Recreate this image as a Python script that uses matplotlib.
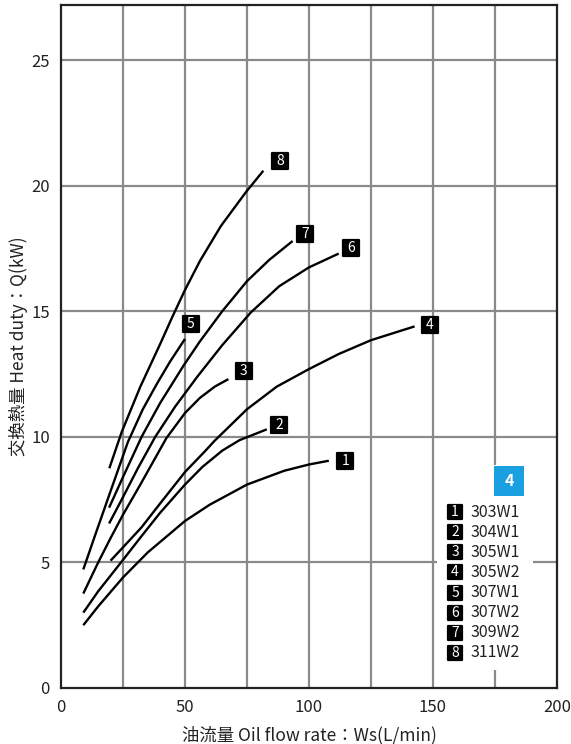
import matplotlib
matplotlib.use("Agg")
import matplotlib.pyplot as plt
from matplotlib.markers import MarkerStyle
from matplotlib.patches import Rectangle
from matplotlib.transforms import offset_copy

plt.rcParams["font.family"] = ["Noto Sans CJK JP", "DejaVu Sans"]

# curve data (oil flow L/min, heat duty kW)
models = ["303W1", "304W1", "305W1", "305W2", "307W1", "307W2", "309W2", "311W2"]

flow_1 = [9, 15, 25, 35, 50, 60, 75, 90, 100, 108]
duty_1 = [2.5, 3.25, 4.4, 5.4, 6.65, 7.3, 8.1, 8.65, 8.9, 9.05]

flow_2 = [9, 15, 25, 32.5, 40, 50, 57, 65, 72, 83]
duty_2 = [3.0, 3.85, 5.1, 6.05, 6.98, 8.1, 8.8, 9.45, 9.87, 10.3]

flow_3 = [9, 15, 20, 25, 32, 42.5, 50, 56, 62, 67.5]
duty_3 = [3.76, 5.0, 5.97, 6.9, 8.1, 9.95, 10.95, 11.55, 12.0, 12.3]

flow_4 = [20, 25, 32.5, 40, 50, 57.8, 62, 75, 87, 100, 112, 125, 142.6]
duty_4 = [5.07, 5.6, 6.4, 7.35, 8.6, 9.4, 9.85, 11.1, 12.0, 12.7, 13.3, 13.85, 14.4]

flow_5 = [9, 14, 19.5, 27, 33, 38.6, 44, 50]
duty_5 = [4.72, 6.15, 7.7, 9.8, 11.1, 12.1, 13.0, 13.9]

flow_6 = [19.4, 25, 31, 38, 46, 55, 65, 76.5, 88, 100, 112]
duty_6 = [6.55, 7.6, 8.75, 10.0, 11.2, 12.4, 13.65, 14.95, 16.0, 16.75, 17.3]

flow_7 = [19.4, 25, 32.5, 40, 49.5, 56, 65, 75, 84, 93.4]
duty_7 = [7.18, 8.4, 10.0, 11.35, 12.85, 13.8, 15.0, 16.2, 17.05, 17.8]

flow_8 = [19.5, 24.5, 32, 40, 45, 50, 56, 64.5, 74.6, 81.6]
duty_8 = [8.75, 10.2, 12.0, 13.7, 14.8, 15.85, 17.0, 18.4, 19.75, 20.6]

flows = [flow_1, flow_2, flow_3, flow_4, flow_5, flow_6, flow_7, flow_8]
duties = [duty_1, duty_2, duty_3, duty_4, duty_5, duty_6, duty_7, duty_8]

x_ticks = [0, 50, 100, 150, 200]
y_ticks = [0, 5, 10, 15, 20, 25]
x_grid = [25, 50, 75, 100, 125, 150, 175]
y_grid = [5, 10, 15, 20, 25]

# label offset from curve end, in points
label_offsets = [(12, 0), (9, 3), (11, 6), (11, 1), (4, 11), (9, 4), (9, 5), (12, 7)]

TXT = "#222222"
BADGE = MarkerStyle("s", joinstyle="round")


def number_badge(ax, x, y, num, trans, size=11.0, fs=10):
    ax.plot([x], [y], marker=BADGE, ms=size, mfc="black", mec="black", mew=1.6,
            transform=trans, zorder=4, clip_on=False)
    ax.text(x, y, str(num), color="white", fontsize=fs, ha="center", va="center",
            transform=trans, zorder=5)


fig = plt.figure(figsize=(5.71, 7.44), dpi=100)
ax = fig.add_axes([0.1068, 0.0753, 0.8686, 0.918])

for gx in x_grid:
    ax.axvline(gx, color="#8a8a8a", lw=1.6, zorder=1)
for gy in y_grid:
    ax.axhline(gy, color="#8a8a8a", lw=1.6, zorder=1)

for i, (fx, dy) in enumerate(zip(flows, duties)):
    ax.plot(fx, dy, color="black", lw=1.7, solid_capstyle="butt",
            solid_joinstyle="round", zorder=3)
    dx, dyo = label_offsets[i]
    trans = offset_copy(ax.transData, fig=fig, x=dx, y=dyo, units="points")
    number_badge(ax, fx[-1], dy[-1], i + 1, trans)

# legend panel
ax.add_patch(Rectangle((151.6, 0.72), 38.7, 8.15, fc="white", ec="none", zorder=2))
ax.add_patch(Rectangle((174.6, 7.64), 12.1, 1.19, fc="#1a9fe0", ec="none", zorder=3))
ax.text(180.65, 8.23, "4", color="white", fontsize=11.5, fontweight="bold",
        ha="center", va="center", zorder=4)
for i, name in enumerate(models):
    yy = 7.0 - 0.8 * i
    number_badge(ax, 158.9, yy, i + 1, ax.transData, size=10.5, fs=10)
    ax.text(165.2, yy, name, color=TXT, fontsize=11.5, ha="left",
            va="center", zorder=4)

ax.set_xlim(0, 200)
ax.set_ylim(0, 27.2)
ax.set_xticks(x_ticks)
ax.set_yticks(y_ticks)
ax.tick_params(length=0, labelsize=12, colors=TXT, pad=8)
for sp in ax.spines.values():
    sp.set_linewidth(1.6)
    sp.set_color(TXT)
    sp.set_zorder(5)

ax.set_xlabel("油流量 Oil flow rate：Ws(L/min)", fontsize=12.5, color=TXT, labelpad=7)
ax.set_ylabel("交換熱量 Heat duty：Q(kW)", fontsize=12.5, color=TXT, labelpad=2)

fig.savefig("out.png", dpi=100)
